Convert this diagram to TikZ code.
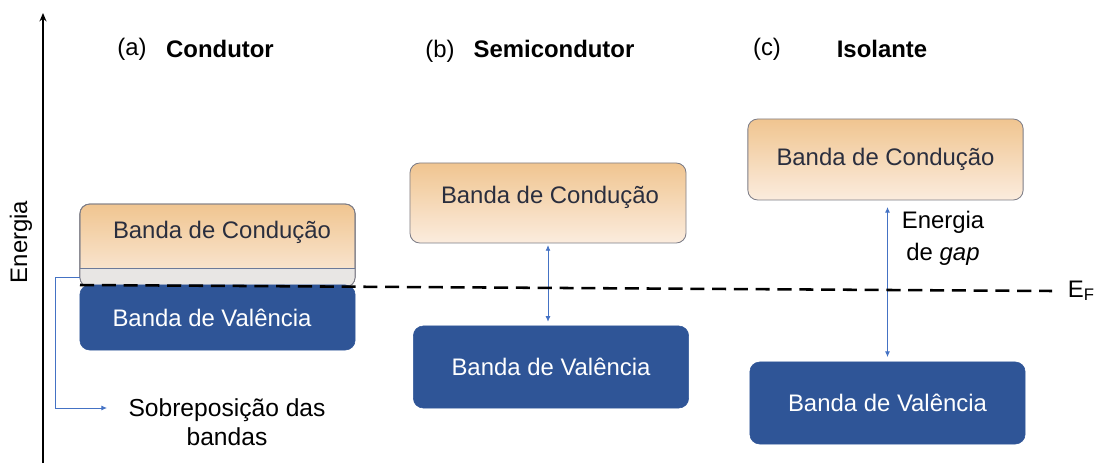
\documentclass[tikz,border=0pt]{standalone}
\usepackage{fontspec}
\setmainfont{Liberation Sans}
\usetikzlibrary{arrows.meta}

\definecolor{cbtop}{RGB}{240,197,144}
\definecolor{cbbot}{RGB}{251,236,222}
\definecolor{vbblue}{RGB}{47,85,151}
\definecolor{boxline}{RGB}{125,125,135}
\definecolor{ovgrey}{RGB}{232,230,228}
\definecolor{ptrblue}{RGB}{68,114,196}
\definecolor{txtdark}{RGB}{42,46,62}

\newcommand{\bandfont}{\fontsize{17}{20.5}\selectfont}

\tikzset{
  band/.style={rounded corners=7pt, inner sep=0pt, outer sep=0pt, minimum width=6.88cm, font=\bandfont},
  cband/.style={band, draw=boxline, line width=0.6pt, top color=cbtop, bottom color=cbbot, text=txtdark},
  vband/.style={band, draw=vbblue, fill=vbblue, text=white},
  gaparrow/.style={ptrblue, line width=0.6pt, {Latex[length=4pt,width=3.5pt]}-{Latex[length=4pt,width=3.5pt]}},
  ptr/.style={ptrblue, line width=0.6pt, -{Latex[length=4pt,width=3.5pt]}},
  fermi/.style={line width=1.8pt, dash pattern=on 10pt off 5.5pt},
  title/.style={font=\fontsize{17}{20}\selectfont\bfseries, anchor=base},
  tag/.style={font=\fontsize{17}{20}\selectfont, anchor=base},
}

\begin{document}
\begin{tikzpicture}[x=0.025cm, y=-0.025cm]
\useasboundingbox (0,0) rectangle (1094,467);

% energy axis
\coordinate (ax0) at (43,463);
\coordinate (ax1) at (43,13);
\draw[line width=0.9pt, -{Stealth[length=6pt,width=5pt]}] (ax0) -- (ax1);
\node[rotate=90, font=\bandfont] (elab) at (21,242) {Energia};

% headings
\node[tag]   (ta) at (132,55) {(a)};
\node[title] (na) at (220,57) {Condutor};
\node[tag]   (tb) at (440,57) {(b)};
\node[title] (nb) at (554,57) {Semicondutor};
\node[tag]   (tc) at (767,55) {(c)};
\node[title] (nc) at (882,57) {Isolante};

% (a) conductor: bands overlap
\node[cband, minimum height=2.075cm] (cbA) at (217.5,245.5) {};
\begin{scope}
  \clip[rounded corners=7pt] (cbA.north west) rectangle (cbA.south east);
  \fill[ovgrey] (cbA.west |- 0,268) rectangle (cbA.south east);
\end{scope}
\draw[boxline, line width=0.6pt, rounded corners=7pt] (cbA.north west) rectangle (cbA.south east);
\draw[boxline!70!ptrblue, line width=0.6pt] (cbA.west |- 0,268) -- (cbA.east |- 0,268);
\node[txtdark, font=\bandfont] (tcA) at (222,232) {Banda de Condução};
\node[vband, minimum height=1.625cm] (vbA) at (217.5,317.5) {};
\node[white, font=\bandfont] (tvA) at (212,318) {Banda de Valência};

% (b) semiconductor
\node[cband, minimum width=6.9cm, minimum height=2cm] (cbB) at (548,203) {};
\node[txtdark, font=\bandfont] (tcB) at (550,197) {Banda de Condução};
\node[vband, minimum height=2.05cm] (vbB) at (551,367) {Banda de Valência};
\draw[gaparrow, shorten <=1.5pt, shorten >=3pt] (cbB.south) -- (cbB.south |- vbB.north);

% (c) insulator
\node[cband, minimum height=2.025cm] (cbC) at (885.5,159.5) {Banda de Condução};
\node[vband, minimum height=2.05cm] (vbC) at (887.5,403) {Banda de Valência};
\draw[gaparrow, shorten <=5pt, shorten >=3.5pt] (vbC.north |- cbC.south) -- (vbC.north);
\node[align=center, font=\fontsize{17}{22.6}\selectfont] (gapC) at (943,238) {Energia\\de \textit{gap}};

% Fermi level
\coordinate (efL) at (80,285);
\coordinate (efR) at (1052,291);
\draw[fermi] (efL) -- (efR);
\node[anchor=base west, font=\bandfont] (ef) at (1063,297) {E\textsubscript{F}};

% overlap pointer
\coordinate (ovW) at (80,277);
\coordinate (ovBend) at (55,408);
\coordinate (ovTip) at (107,408);
\draw[ptr] (ovW) -| (ovBend) -- (ovTip);
\node[align=center, font=\fontsize{17.5}{20.6}\selectfont] (ovlab) at (227,422) {Sobreposição das\\bandas};

\end{tikzpicture}
\end{document}
